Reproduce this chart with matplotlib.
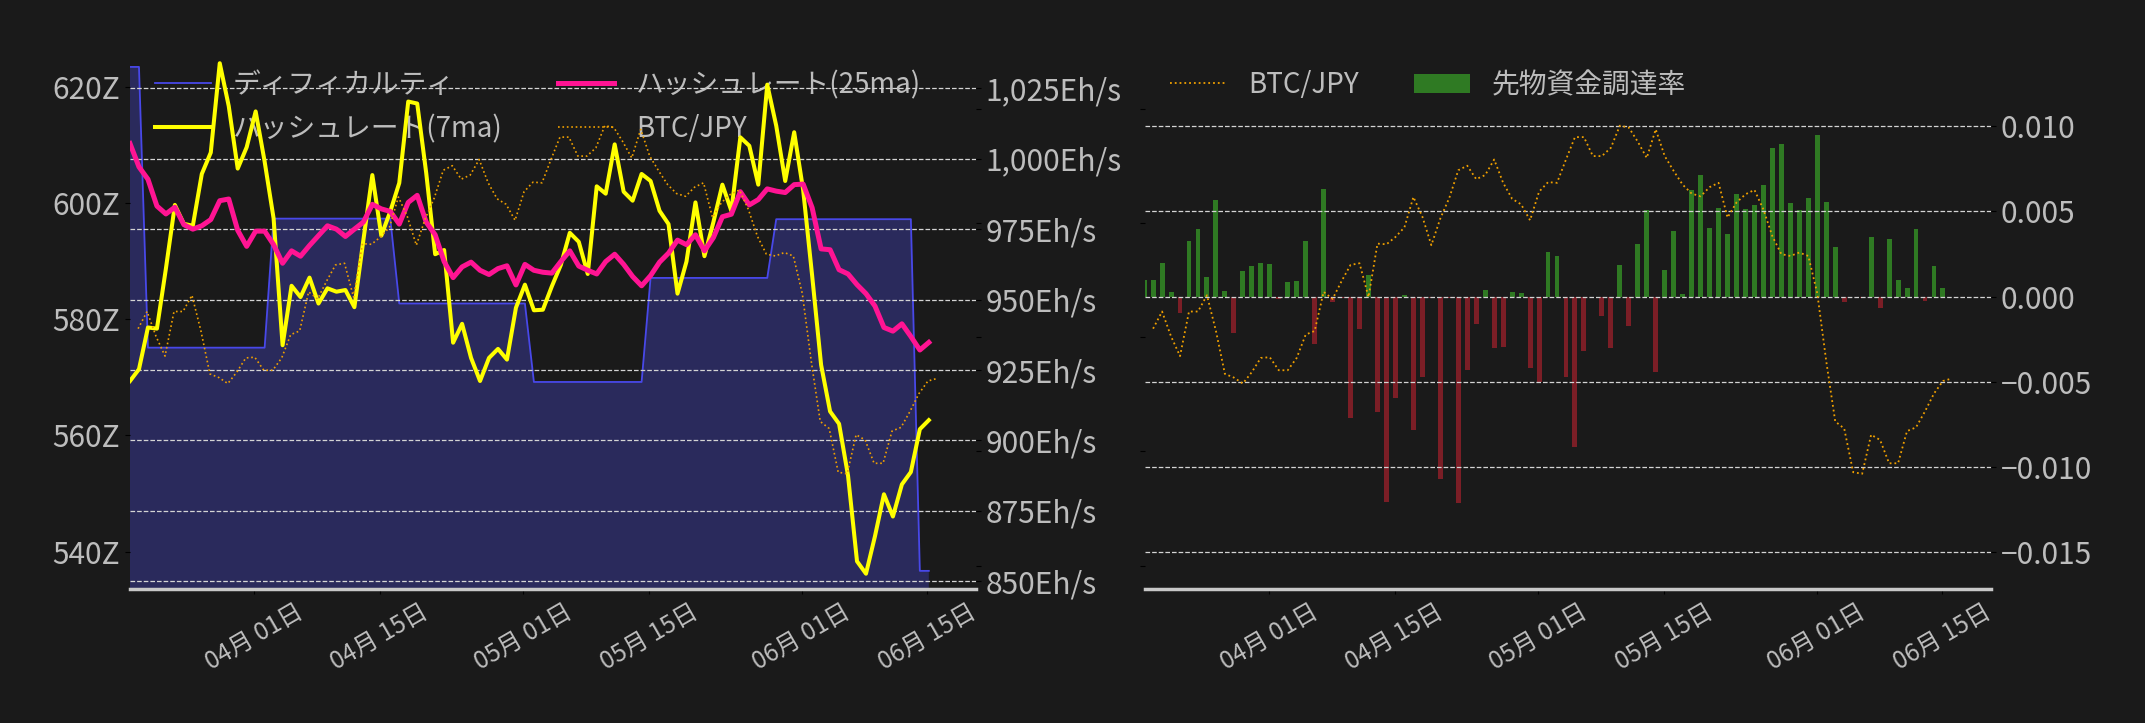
import matplotlib
matplotlib.use('Agg')
import matplotlib.pyplot as plt
import matplotlib.dates as mdates
import matplotlib.ticker as mticker
import pandas as pd

plt.rcParams['font.family'] = ['Noto Sans CJK JP', 'DejaVu Sans']

# ---------------- data ----------------
dates = pd.date_range('2025-03-18 04:20', periods=90, freq='D')
btc_dates = pd.date_range('2025-03-19 02:00', periods=90, freq='D')
funding_dates = pd.date_range('2025-03-18 02:00', periods=90, freq='D')

difficulty = [
    623.4, 623.4,
    575.1, 575.1, 575.1, 575.1, 575.1, 575.1, 575.1, 575.1, 575.1, 575.1, 575.1, 575.1, 575.1, 575.1,
    597.3, 597.3, 597.3, 597.3, 597.3, 597.3, 597.3, 597.3, 597.3, 597.3, 597.3, 597.3, 597.3, 597.3,
    582.7, 582.7, 582.7, 582.7, 582.7, 582.7, 582.7, 582.7, 582.7, 582.7, 582.7, 582.7, 582.7, 582.7, 582.7,
    569.2, 569.2, 569.2, 569.2, 569.2, 569.2, 569.2, 569.2, 569.2, 569.2, 569.2, 569.2, 569.2,
    587.1, 587.1, 587.1, 587.1, 587.1, 587.1, 587.1, 587.1, 587.1, 587.1, 587.1, 587.1, 587.1, 587.1,
    597.2, 597.2, 597.2, 597.2, 597.2, 597.2, 597.2, 597.2, 597.2, 597.2, 597.2, 597.2, 597.2, 597.2, 597.2, 597.2,
    536.7, 536.7,
]

hashrate_7ma = [
    921.1, 925.3, 940.1, 939.7, 961.0, 983.6, 976.9, 976.2, 994.6, 1002.2,
    1033.9, 1018.7, 996.5, 1004.1, 1016.8, 999.0, 978.8, 933.8, 954.9, 950.9,
    957.8, 948.6, 954.0, 952.8, 953.4, 947.3, 971.1, 994.2, 972.7, 981.3,
    991.4, 1020.3, 1019.6, 995.0, 966.1, 967.6, 934.7, 941.4, 929.3, 921.1,
    929.3, 932.5, 928.7, 947.1, 955.3, 946.2, 946.4, 954.7, 962.3, 973.7,
    970.5, 959.1, 990.2, 987.6, 1005.1, 988.3, 985.1, 994.6, 992.1, 981.5,
    976.8, 952.1, 963.5, 984.5, 965.4, 977.5, 990.8, 981.5, 1007.6, 1004.6,
    990.8, 1026.3, 1011.7, 992.1, 1009.4, 988.9, 958.5, 926.8, 910.3, 905.9,
    887.5, 857.1, 852.7, 866.0, 880.9, 873.0, 884.4, 888.8, 904.0, 907.2,
]

hashrate_25ma = [
    1005.4, 997.1, 992.7, 983.2, 980.4, 982.8, 976.6, 975.0, 976.2, 978.4,
    985.1, 985.7, 974.6, 968.9, 974.3, 974.3, 969.5, 962.9, 967.3, 965.4,
    969.2, 972.7, 976.2, 975.0, 972.4, 975.0, 977.5, 983.8, 982.2, 981.3,
    976.8, 984.5, 987.0, 977.5, 973.0, 963.5, 957.8, 961.6, 963.3, 960.4,
    958.9, 961.0, 962.0, 955.2, 962.5, 960.4, 959.7, 959.4, 963.5, 967.3,
    961.9, 960.4, 959.1, 963.5, 966.1, 962.5, 958.2, 954.9, 958.5, 963.3,
    966.5, 971.1, 969.5, 973.0, 967.3, 972.0, 979.4, 980.3, 988.3, 983.6,
    985.5, 989.3, 988.5, 988.0, 990.8, 991.0, 982.6, 968.0, 967.7, 960.6,
    959.1, 955.3, 952.1, 947.7, 940.1, 938.8, 941.4, 936.9, 932.1, 934.8,
]

btc_jpy = [
    15037000, 15112000, 15003000, 14917000, 15112000, 15112000, 15183000, 15027000, 14839000, 14823000,
    14797000, 14847000, 14909000, 14912000, 14855000, 14855000, 14909000, 15011000, 15027000, 15198000,
    15167000, 15245000, 15316000, 15323000, 15175000, 15409000, 15406000, 15438000, 15480000, 15613000,
    15527000, 15402000, 15519000, 15609000, 15730000, 15750000, 15691000, 15709000, 15777000, 15675000,
    15605000, 15581000, 15511000, 15636000, 15678000, 15675000, 15777000, 15875000, 15875000, 15792000,
    15792000, 15828000, 15925000, 15917000, 15855000, 15784000, 15909000, 15792000, 15727000, 15667000,
    15628000, 15616000, 15656000, 15675000, 15523000, 15589000, 15625000, 15644000, 15558000, 15441000,
    15363000, 15355000, 15370000, 15355000, 15191000, 14894000, 14631000, 14600000, 14409000, 14402000,
    14573000, 14550000, 14448000, 14448000, 14589000, 14605000, 14675000, 14753000, 14808000, 14819000,
]

funding_rate = [
    0.00096, 0.00096, 0.00197, 0.00025, -0.00094, 0.00325, 0.00396, 0.00113, 0.00566, 0.00031,
    -0.00214, 0.00149, 0.00178, 0.00197, 0.00191, -0.00013, 0.00084, 0.00090, 0.00325, -0.00277,
    0.00631, -0.00031, -0.00008, -0.00710, -0.00189, 0.00126, -0.00677, -0.01205, -0.00593, 0.00008,
    -0.00782, -0.00471, -0.00008, -0.01069, -0.00006, -0.01209, -0.00430, -0.00161, 0.00038, -0.00300,
    -0.00295, 0.00025, 0.00021, -0.00417, -0.00503, 0.00260, 0.00237, -0.00471, -0.00882, -0.00319,
    0.00000, -0.00113, -0.00300, 0.00184, -0.00172, 0.00308, 0.00507, -0.00442, 0.00155, 0.00383,
    0.00015, 0.00624, 0.00712, 0.00402, 0.00520, 0.00367, 0.00601, 0.00513, 0.00536, 0.00654,
    0.00872, 0.00895, 0.00549, 0.00507, 0.00578, 0.00947, 0.00553, 0.00289, -0.00031, 0.00000,
    -0.00006, 0.00348, -0.00065, 0.00337, 0.00096, 0.00050, 0.00396, -0.00025, 0.00178, 0.00050,
]

labels_left = ['ディフィカルティ', 'ハッシュレート(7ma)', 'ハッシュレート(25ma)', 'BTC/JPY']
labels_right = ['BTC/JPY', '先物資金調達率']

# ---------------- style ----------------
BG = '#1a1a1a'
TXT = '#bdbdbd'
GRID = '#d4d4d4'
FS = 21.5    # y tick labels
LFS = 20     # legend
XFS = 17.5   # x tick labels

x_left = pd.Timestamp('2025-03-18 04:20')
x_right = pd.Timestamp('2025-06-20 10:30')

fig = plt.figure(figsize=(21.45, 7.23), dpi=100, facecolor=BG)
bottom = 1 - 589 / 723
height = 544 / 723
axL = fig.add_axes([130 / 2145, bottom, 846 / 2145, height], facecolor=BG)
axR = fig.add_axes([1145 / 2145, bottom, 846 / 2145, height], facecolor=BG)


def style_axis(ax):
    for s in ax.spines.values():
        s.set_visible(False)
    ax.tick_params(colors='black', labelcolor=TXT, labelsize=FS)


def style_x(ax):
    ax.spines['bottom'].set_visible(True)
    ax.spines['bottom'].set_color('#c8c8c8')
    ax.spines['bottom'].set_linewidth(2.5)
    ax.set_xlim(x_left, x_right)
    ax.xaxis.set_major_locator(mdates.DayLocator(bymonthday=[1, 15]))
    ax.xaxis.set_major_formatter(mdates.DateFormatter('%m月 %d日'))
    ax.tick_params(axis='x', labelsize=XFS, labelrotation=30)


# ---------- left panel ----------
style_axis(axL)
style_x(axL)
axL.fill_between(dates, difficulty, 0, color='#2a2a5c', lw=0)
l_diff, = axL.plot(dates, difficulty, color='#4848e8', lw=1.3, label=labels_left[0])
axL.set_ylim(533.58, 627.17)
axL.yaxis.set_major_locator(mticker.MultipleLocator(20))
axL.yaxis.set_major_formatter(mticker.FuncFormatter(lambda v, p: f'{v:.0f}Z'))

axH = axL.twinx()
style_axis(axH)
axH.grid(axis='y', color=GRID, ls='--', lw=0.9)
l_7, = axH.plot(dates, hashrate_7ma, color='#ffff00', lw=2.9, label=labels_left[1])
l_25, = axH.plot(dates, hashrate_25ma, color='#ff1493', lw=3.6, label=labels_left[2])
axH.set_ylim(847.27, 1040.37)
axH.yaxis.set_major_locator(mticker.MultipleLocator(25))
axH.yaxis.set_major_formatter(mticker.FuncFormatter(lambda v, p: f'{v:,.0f}Eh/s'))

axB = axL.twinx()
style_axis(axB)
l_btc, = axB.plot(btc_dates, btc_jpy, color='#f0a000', lw=1.2, ls=':', label=labels_left[3])
axB.set_ylim(13.898e6, 16.278e6)
axB.yaxis.set_major_locator(mticker.MultipleLocator(500000))
axB.tick_params(labelleft=False, labelright=False)
axB.set_xlim(x_left, x_right)

# make sure the difficulty labels stay on the left
axL.yaxis.tick_left()

leg = axL.legend(handles=[l_diff, l_7, l_25, l_btc], loc='upper left', ncol=2,
                 frameon=False, fontsize=LFS, labelcolor=TXT)

# ---------- right panel ----------
style_axis(axR)
style_x(axR)
colors = ['#2f7a23' if v >= 0 else '#7b1e26' for v in funding_rate]
bars = axR.bar(funding_dates, funding_rate, width=0.55, color=colors, label=labels_right[1])
axR.grid(axis='y', color=GRID, ls='--', lw=0.9)
axR.set_ylim(-0.017154, 0.01477)
axR.yaxis.set_major_locator(mticker.MultipleLocator(0.005))
axR.yaxis.set_major_formatter(mticker.FuncFormatter(
    lambda v, p: f'{round(v, 6):.3f}'.replace('-', '\u2212') if abs(v) > 1e-9 else '0.000'))

axR2 = axR.twinx()
style_axis(axR2)
r_btc, = axR2.plot(btc_dates, btc_jpy, color='#f0a000', lw=1.3, ls=':', label=labels_right[0])
axR2.set_ylim(13.898e6, 16.278e6)
axR2.yaxis.set_major_locator(mticker.MultipleLocator(500000))
axR2.set_xlim(x_left, x_right)

# funding-rate labels on the right, hidden BTC ticks on the left
axR.yaxis.tick_right()
axR.tick_params(axis='y', colors='black', labelcolor=TXT, labelsize=FS,
                labelleft=False, labelright=True)
axR2.yaxis.tick_left()
axR2.tick_params(axis='y', colors='black', labelleft=False, labelright=False)

axR2.legend(handles=[r_btc, bars], labels=labels_right, loc='upper left', ncol=2,
            frameon=False, fontsize=LFS, labelcolor=TXT)

fig.savefig('out.png', dpi=100, facecolor=BG)
